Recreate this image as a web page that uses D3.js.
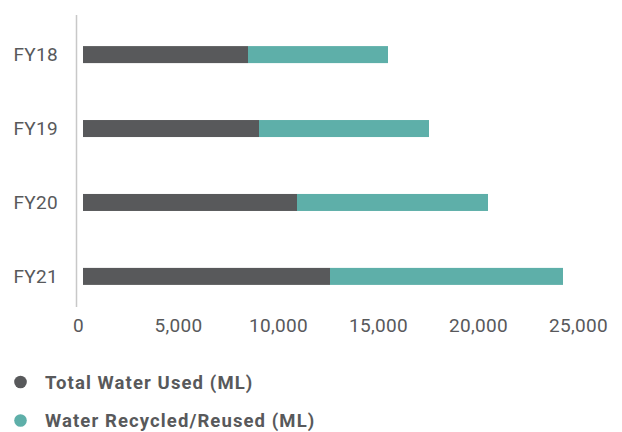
<!DOCTYPE html>
<html><head><meta charset="utf-8">
<script src="https://cdn.jsdelivr.net/npm/d3@7"></script>
<style>
html,body{margin:0;padding:0;background:#fff;}
svg{display:block;font-family:Roboto,"Liberation Sans",sans-serif;}
</style></head>
<body><svg id="c" width="622" height="432"></svg>
<script>
const categories = ["FY18","FY19","FY20","FY21"];
const totalUsed = [8250, 8800, 10700, 12350];
const recycled = [7000, 8500, 9550, 11650];
const seriesNames = ["Total Water Used (ML)","Water Recycled/Reused (ML)"];
const colors = ["#58595b","#5eafa9"];
const tickValues = [0,5000,10000,15000,20000,25000];

const svg = d3.select("#c");
const x = d3.scaleLinear().domain([0,25000]).range([83,583]);
const y = d3.scaleBand().domain(categories).range([18,313]).paddingInner(0.77).paddingOuter(0.38);

// vertical axis line
svg.append("line").attr("x1",76.5).attr("x2",76.5).attr("y1",15).attr("y2",307)
  .attr("stroke","#c8c8c8").attr("stroke-width",1.5);

const data = categories.map((c,i)=>({cat:c, used:totalUsed[i], rec:recycled[i]}));
const stack = d3.stack().keys(["used","rec"])(data);
svg.append("g").selectAll("g").data(stack).join("g")
  .attr("fill",(d,i)=>colors[i])
  .selectAll("rect").data(d=>d).join("rect")
  .attr("x",d=>x(d[0])).attr("width",d=>x(d[1])-x(d[0]))
  .attr("y",d=>y(d.data.cat)).attr("height",y.bandwidth());

// category labels
svg.append("g").selectAll("text").data(categories).join("text")
  .attr("x",58).attr("y",d=>y(d)+y.bandwidth()/2).attr("dy","0.34em")
  .attr("text-anchor","end").attr("fill","#58595b").attr("font-size",19)
  .attr("letter-spacing","0.3px")
  .text(d=>d);

// x axis
const xAxis = d3.axisBottom(x).tickValues(tickValues).tickFormat(d3.format(",")).tickSize(0).tickPadding(0);
const ax = svg.append("g").attr("transform","translate(-5,318)").call(xAxis);
ax.select(".domain").remove();
ax.selectAll("text").attr("fill","#58595b").attr("font-size",19).attr("dy","0.71em")
  .style("font-family","Roboto,sans-serif").attr("letter-spacing","0.3px");

// legend
const lg = svg.append("g").selectAll("g").data(seriesNames).join("g")
  .attr("transform",(d,i)=>`translate(0,${382+i*38.5})`);
lg.append("circle").attr("cx",20.5).attr("cy",0).attr("r",6.3).attr("fill",(d,i)=>colors[i]);
lg.append("text").attr("x",45).attr("y",0).attr("dy","0.36em")
  .attr("font-size",18.5).attr("font-weight","bold").attr("letter-spacing","1.1px")
  .attr("fill","#58595b").text(d=>d);
</script></body></html>
